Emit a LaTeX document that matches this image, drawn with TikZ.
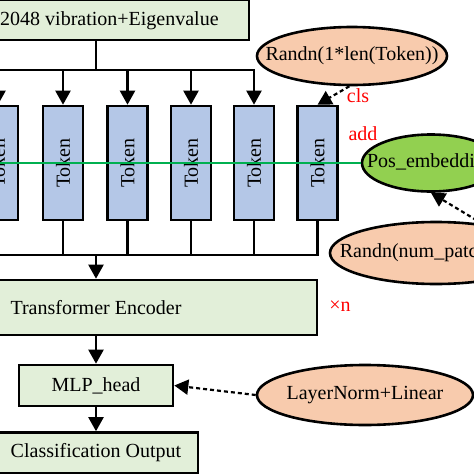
\documentclass[tikz,border=0pt]{standalone}
\usepackage{fontspec}
\setmainfont{Liberation Serif}
\usetikzlibrary{arrows.meta,shapes.geometric}
\definecolor{boxgreen}{HTML}{E2EFD9}
\definecolor{tokblue}{HTML}{B4C7E7}
\definecolor{ovorange}{HTML}{F8CBAD}
\definecolor{ovgreen}{HTML}{92D050}
\definecolor{linegreen}{HTML}{00B050}
\definecolor{lblred}{HTML}{FF0000}
\begin{document}
\begin{tikzpicture}[x=1pt,y=-1pt,
  font=\fontsize{20}{24}\selectfont,
  box/.style={draw, line width=2.6pt, fill=boxgreen, inner sep=0pt},
  tok/.style={draw, line width=2.6pt, fill=tokblue, minimum width=40pt, minimum height=114pt, inner sep=0pt},
  oval/.style={ellipse, draw, line width=2.6pt, inner sep=0pt},
  plain/.style={inner sep=0pt},
  conn/.style={line width=2.2pt, line cap=rect},
  arr/.style={line width=2.2pt, -{Triangle[width=15pt,length=14pt]}},
  darr/.style={line width=2.2pt, dash pattern=on 4pt off 3pt, -{Triangle[width=15pt,length=14pt]}},
  redlbl/.style={text=lblred, inner sep=0pt}]
\clip (0,0) rectangle (474,474);
\fill[white] (0,0) rectangle (474,474);

% input box
\node[box, minimum width=306pt, minimum height=40pt] (inp) at (96,20) {};
\node[plain, anchor=west] (inptxt) at (0,21) {2048 vibration+Eigenvalue};

% tokens
\foreach \i/\x in {0/-2,1/63,2/127.5,3/191,4/254,5/317.5}
  \node[tok] (t\i) at (\x,163) {\rotatebox{90}{Token}};

% ovals
\node[oval, fill=ovorange, minimum width=190pt, minimum height=58pt] (r1) at (352,56) {};
\node[plain] (r1txt) at (r1) {Randn(1*len(Token))};
\node[oval, fill=ovgreen, minimum width=138pt, minimum height=57pt] (pos) at (431,163) {};
\node[plain] (postxt) at (pos) {Pos\_embedding};
\node[oval, fill=ovorange, minimum width=212pt, minimum height=62pt] (r2) at (436,253) {};
\node[plain] (r2txt) at (r2) {Randn(num\_patches+1)};
\node[oval, fill=ovorange, minimum width=216pt, minimum height=60pt] (ln) at (365,395) {};
\node[plain] (lntxt) at (ln) {LayerNorm+Linear};

% lower boxes
\node[box, minimum width=442pt, minimum height=55pt] (enc) at (96,307.5) {Transformer Encoder};
\node[box, minimum width=154pt, minimum height=41pt] (mlp) at (96,385.5) {MLP\_head};
\node[box, minimum width=204pt, minimum height=41pt] (cls) at (96,453) {Classification Output};

% red labels
\node[redlbl] (clsl) at (358,96) {cls};
\node[redlbl] (addl) at (363,134) {add};
\node[redlbl] (xn) at (340,306) {×n};

% top distribution
\coordinate (topbar) at (96,70);
\draw[conn] (inp.south) -- (topbar);
\draw[conn] (t0.north |- topbar) -- (t4.north |- topbar);
\foreach \i in {0,...,4}
  \draw[arr] (t\i.north |- topbar) -- (t\i.north);

% bottom collection
\coordinate (botbar) at (96,255);
\foreach \i in {0,...,5}
  \draw[conn] (t\i.south) -- (t\i.south |- botbar);
\draw[conn] (t0.south |- botbar) -- (t5.south |- botbar);
\draw[arr] (botbar) -- (enc.north);

% green position line
\coordinate (gl) at (-30,163);
\draw[linegreen, line width=2.2pt] (gl) -- (pos.west);

% main flow
\draw[arr] (enc.south) -- (mlp.north);
\draw[arr] (mlp.south) -- (cls.north);

% dashed inputs
\draw[darr] (r1.265) -- (t5.north);
\draw[darr] (r2.32) -- (pos.south);
\draw[darr] (ln.west) -- (mlp.east);
\end{tikzpicture}
\end{document}
